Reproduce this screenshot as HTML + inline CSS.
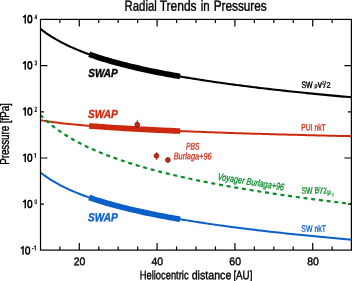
<!DOCTYPE html>
<html><head><meta charset="utf-8"><style>html,body{margin:0;padding:0;background:#fff;}svg{display:block;will-change:transform;}</style></head>
<body><svg xmlns="http://www.w3.org/2000/svg" width="357" height="281" viewBox="0 0 357 281" font-family="Liberation Sans, sans-serif"><rect width="357" height="281" fill="#fff"/><defs><clipPath id="c"><rect x="40.5" y="19.4" width="310.9" height="230.7"/></clipPath></defs><g clip-path="url(#c)" fill="none"><path d="M40.50,28.80 L43.11,30.85 L45.73,32.77 L48.34,34.58 L50.95,36.29 L53.56,37.91 L56.18,39.46 L58.79,40.92 L61.40,42.33 L64.01,43.67 L66.63,44.96 L69.24,46.19 L71.85,47.38 L74.46,48.52 L77.08,49.63 L79.69,50.69 L82.30,51.72 L84.91,52.72 L87.53,53.68 L90.14,54.62 L92.75,55.53 L95.36,56.41 L97.98,57.27 L100.59,58.11 L103.20,58.92 L105.82,59.71 L108.43,60.49 L111.04,61.24 L113.65,61.98 L116.27,62.70 L118.88,63.40 L121.49,64.09 L124.10,64.76 L126.72,65.42 L129.33,66.06 L131.94,66.69 L134.55,67.31 L137.17,67.91 L139.78,68.51 L142.39,69.09 L145.00,69.66 L147.62,70.23 L150.23,70.78 L152.84,71.32 L155.45,71.85 L158.07,72.37 L160.68,72.89 L163.29,73.40 L165.91,73.89 L168.52,74.38 L171.13,74.87 L173.74,75.34 L176.36,75.81 L178.97,76.27 L181.58,76.72 L184.19,77.17 L186.81,77.61 L189.42,78.05 L192.03,78.48 L194.64,78.90 L197.26,79.32 L199.87,79.73 L202.48,80.13 L205.09,80.53 L207.71,80.93 L210.32,81.32 L212.93,81.71 L215.54,82.09 L218.16,82.46 L220.77,82.83 L223.38,83.20 L225.99,83.56 L228.61,83.92 L231.22,84.28 L233.83,84.63 L236.45,84.97 L239.06,85.32 L241.67,85.65 L244.28,85.99 L246.90,86.32 L249.51,86.65 L252.12,86.97 L254.73,87.29 L257.35,87.61 L259.96,87.93 L262.57,88.24 L265.18,88.54 L267.80,88.85 L270.41,89.15 L273.02,89.45 L275.63,89.75 L278.25,90.04 L280.86,90.33 L283.47,90.62 L286.08,90.90 L288.70,91.19 L291.31,91.46 L293.92,91.74 L296.54,92.02 L299.15,92.29 L301.76,92.56 L304.37,92.83 L306.99,93.09 L309.60,93.35 L312.21,93.62 L314.82,93.87 L317.44,94.13 L320.05,94.38 L322.66,94.64 L325.27,94.89 L327.89,95.13 L330.50,95.38 L333.11,95.62 L335.72,95.87 L338.34,96.11 L340.95,96.35 L343.56,96.58 L346.17,96.82 L348.79,97.05 L351.40,97.28" stroke="#000" stroke-width="2.1"/><path d="M89.20,54.29 L91.53,55.11 L93.86,55.91 L96.19,56.69 L98.52,57.45 L100.85,58.19 L103.18,58.92 L105.52,59.62 L107.85,60.32 L110.18,60.99 L112.51,61.66 L114.84,62.31 L117.17,62.94 L119.50,63.56 L121.83,64.17 L124.16,64.77 L126.49,65.36 L128.82,65.94 L131.15,66.50 L133.48,67.06 L135.82,67.60 L138.15,68.14 L140.48,68.66 L142.81,69.18 L145.14,69.69 L147.47,70.19 L149.80,70.69 L152.13,71.17 L154.46,71.65 L156.79,72.12 L159.12,72.58 L161.45,73.04 L163.78,73.49 L166.12,73.93 L168.45,74.37 L170.78,74.80 L173.11,75.23 L175.44,75.65 L177.77,76.06 L180.10,76.47" stroke="#000" stroke-width="5.7"/><path d="M40.50,120.17 L43.11,120.62 L45.73,121.04 L48.34,121.44 L50.95,121.82 L53.56,122.18 L56.18,122.52 L58.79,122.85 L61.40,123.16 L64.01,123.47 L66.63,123.76 L69.24,124.03 L71.85,124.30 L74.46,124.56 L77.08,124.81 L79.69,125.06 L82.30,125.29 L84.91,125.52 L87.53,125.74 L90.14,125.96 L92.75,126.17 L95.36,126.37 L97.98,126.57 L100.59,126.76 L103.20,126.95 L105.82,127.13 L108.43,127.31 L111.04,127.49 L113.65,127.66 L116.27,127.83 L118.88,127.99 L121.49,128.15 L124.10,128.31 L126.72,128.46 L129.33,128.61 L131.94,128.76 L134.55,128.91 L137.17,129.05 L139.78,129.19 L142.39,129.33 L145.00,129.46 L147.62,129.60 L150.23,129.73 L152.84,129.86 L155.45,129.98 L158.07,130.11 L160.68,130.23 L163.29,130.35 L165.91,130.47 L168.52,130.59 L171.13,130.70 L173.74,130.81 L176.36,130.93 L178.97,131.04 L181.58,131.15 L184.19,131.25 L186.81,131.36 L189.42,131.46 L192.03,131.57 L194.64,131.67 L197.26,131.77 L199.87,131.87 L202.48,131.97 L205.09,132.06 L207.71,132.16 L210.32,132.25 L212.93,132.35 L215.54,132.44 L218.16,132.53 L220.77,132.62 L223.38,132.71 L225.99,132.80 L228.61,132.88 L231.22,132.97 L233.83,133.05 L236.45,133.14 L239.06,133.22 L241.67,133.30 L244.28,133.39 L246.90,133.47 L249.51,133.55 L252.12,133.63 L254.73,133.70 L257.35,133.78 L259.96,133.86 L262.57,133.93 L265.18,134.01 L267.80,134.09 L270.41,134.16 L273.02,134.23 L275.63,134.31 L278.25,134.38 L280.86,134.45 L283.47,134.52 L286.08,134.59 L288.70,134.66 L291.31,134.73 L293.92,134.80 L296.54,134.86 L299.15,134.93 L301.76,135.00 L304.37,135.06 L306.99,135.13 L309.60,135.19 L312.21,135.26 L314.82,135.32 L317.44,135.39 L320.05,135.45 L322.66,135.51 L325.27,135.57 L327.89,135.64 L330.50,135.70 L333.11,135.76 L335.72,135.82 L338.34,135.88 L340.95,135.94 L343.56,135.99 L346.17,136.05 L348.79,136.11 L351.40,136.17" stroke="#cc2a10" stroke-width="2.0"/><path d="M89.20,125.88 L91.53,126.07 L93.86,126.25 L96.19,126.43 L98.52,126.61 L100.85,126.78 L103.18,126.95 L105.52,127.11 L107.85,127.27 L110.18,127.43 L112.51,127.58 L114.84,127.74 L117.17,127.88 L119.50,128.03 L121.83,128.17 L124.16,128.31 L126.49,128.45 L128.82,128.59 L131.15,128.72 L133.48,128.85 L135.82,128.98 L138.15,129.10 L140.48,129.23 L142.81,129.35 L145.14,129.47 L147.47,129.59 L149.80,129.71 L152.13,129.82 L154.46,129.94 L156.79,130.05 L159.12,130.16 L161.45,130.27 L163.78,130.37 L166.12,130.48 L168.45,130.58 L170.78,130.69 L173.11,130.79 L175.44,130.89 L177.77,130.99 L180.10,131.08" stroke="#cc2a10" stroke-width="5.7"/><path d="M40.50,172.55 L43.11,174.55 L45.73,176.43 L48.34,178.20 L50.95,179.88 L53.56,181.46 L56.18,182.97 L58.79,184.41 L61.40,185.78 L64.01,187.10 L66.63,188.36 L69.24,189.57 L71.85,190.73 L74.46,191.85 L77.08,192.93 L79.69,193.98 L82.30,194.99 L84.91,195.96 L87.53,196.91 L90.14,197.83 L92.75,198.72 L95.36,199.58 L97.98,200.43 L100.59,201.24 L103.20,202.04 L105.82,202.82 L108.43,203.58 L111.04,204.31 L113.65,205.04 L116.27,205.74 L118.88,206.43 L121.49,207.10 L124.10,207.76 L126.72,208.41 L129.33,209.04 L131.94,209.66 L134.55,210.26 L137.17,210.86 L139.78,211.44 L142.39,212.01 L145.00,212.57 L147.62,213.12 L150.23,213.66 L152.84,214.19 L155.45,214.72 L158.07,215.23 L160.68,215.73 L163.29,216.23 L165.91,216.72 L168.52,217.20 L171.13,217.67 L173.74,218.14 L176.36,218.60 L178.97,219.05 L181.58,219.50 L184.19,219.93 L186.81,220.37 L189.42,220.79 L192.03,221.21 L194.64,221.63 L197.26,222.04 L199.87,222.44 L202.48,222.84 L205.09,223.23 L207.71,223.62 L210.32,224.00 L212.93,224.38 L215.54,224.75 L218.16,225.12 L220.77,225.49 L223.38,225.85 L225.99,226.20 L228.61,226.56 L231.22,226.90 L233.83,227.25 L236.45,227.59 L239.06,227.92 L241.67,228.26 L244.28,228.58 L246.90,228.91 L249.51,229.23 L252.12,229.55 L254.73,229.86 L257.35,230.18 L259.96,230.48 L262.57,230.79 L265.18,231.09 L267.80,231.39 L270.41,231.69 L273.02,231.98 L275.63,232.27 L278.25,232.56 L280.86,232.84 L283.47,233.13 L286.08,233.41 L288.70,233.68 L291.31,233.96 L293.92,234.23 L296.54,234.50 L299.15,234.77 L301.76,235.03 L304.37,235.30 L306.99,235.56 L309.60,235.81 L312.21,236.07 L314.82,236.32 L317.44,236.57 L320.05,236.82 L322.66,237.07 L325.27,237.32 L327.89,237.56 L330.50,237.80 L333.11,238.04 L335.72,238.28 L338.34,238.52 L340.95,238.75 L343.56,238.98 L346.17,239.21 L348.79,239.44 L351.40,239.67" stroke="#0a5fc8" stroke-width="2.0"/><path d="M89.20,197.50 L91.53,198.31 L93.86,199.09 L96.19,199.85 L98.52,200.60 L100.85,201.33 L103.18,202.04 L105.52,202.73 L107.85,203.41 L110.18,204.07 L112.51,204.72 L114.84,205.36 L117.17,205.98 L119.50,206.59 L121.83,207.19 L124.16,207.78 L126.49,208.35 L128.82,208.92 L131.15,209.47 L133.48,210.02 L135.82,210.55 L138.15,211.08 L140.48,211.59 L142.81,212.10 L145.14,212.60 L147.47,213.09 L149.80,213.57 L152.13,214.05 L154.46,214.52 L156.79,214.98 L159.12,215.44 L161.45,215.88 L163.78,216.32 L166.12,216.76 L168.45,217.19 L170.78,217.61 L173.11,218.03 L175.44,218.44 L177.77,218.84 L180.10,219.24" stroke="#0a5fc8" stroke-width="5.7"/><path d="M40.50,115.10 L42.46,117.07 L44.41,118.95 L46.37,120.74 L48.32,122.45 L50.28,124.10 L52.23,125.68 L54.19,127.20 L56.14,128.67 L58.10,130.09 L60.05,131.45 L62.01,132.78 L63.96,134.06 L65.92,135.30 L67.87,136.51 L69.83,137.68 L71.79,138.82 L73.74,139.92 L75.70,141.00 L77.65,142.05 L79.61,143.07 L81.56,144.07 L83.52,145.05 L85.47,146.00 L87.43,146.93 L89.38,147.84 L91.34,148.73 L93.29,149.60 L95.25,150.45 L97.21,151.28 L99.16,152.10 L101.12,152.90 L103.07,153.69 L105.03,154.46 L106.98,155.21 L108.94,155.96 L110.89,156.69 L112.85,157.40 L114.80,158.11 L116.76,158.80 L118.71,159.48 L120.67,160.15 L122.62,160.81 L124.58,161.46 L126.54,162.10 L128.49,162.73 L130.45,163.34 L132.40,163.95 L134.36,164.55 L136.31,165.15 L138.27,165.73 L140.22,166.30 L142.18,166.87 L144.13,167.43 L146.09,167.98 L148.04,168.53 L150.00,169.07 L151.95,169.60 L153.91,170.12 L155.87,170.64 L157.82,171.15 L159.78,171.65 L161.73,172.15 L163.69,172.64 L165.64,173.13 L167.60,173.61 L169.55,174.08 L171.51,174.55 L173.46,175.02 L175.42,175.47 L177.37,175.93 L179.33,176.38 L181.28,176.82 L183.24,177.26 L185.20,177.69 L187.15,178.12 L189.11,178.55 L191.06,178.97 L193.02,179.39 L194.97,179.80 L196.93,180.21 L198.88,180.61 L200.84,181.01 L202.79,181.41 L204.75,181.80 L206.70,182.19 L208.66,182.58 L210.62,182.96 L212.57,183.34 L214.53,183.71 L216.48,184.08 L218.44,184.45 L220.39,184.81 L222.35,185.18 L224.30,185.53 L226.26,185.89 L228.21,186.24 L230.17,186.59 L232.12,186.94 L234.08,187.28 L236.03,187.62 L237.99,187.96 L239.95,188.29 L241.90,188.63 L243.86,188.95 L245.81,189.28 L247.77,189.61 L249.72,189.93 L251.68,190.25 L253.63,190.56 L255.59,190.88 L257.54,191.19 L259.50,191.50 L261.45,191.81 L263.41,192.11 L265.36,192.41 L267.32,192.71 L269.28,193.01 L271.23,193.31 L273.19,193.60 L275.14,193.89 L277.10,194.18 L279.05,194.47 L281.01,194.76 L282.96,195.04 L284.92,195.32 L286.87,195.60 L288.83,195.88 L290.78,196.16 L292.74,196.43 L294.69,196.70 L296.65,196.98 L298.61,197.24 L300.56,197.51 L302.52,197.78 L304.47,198.04 L306.43,198.30 L308.38,198.56 L310.34,198.82 L312.29,199.08 L314.25,199.33 L316.20,199.59 L318.16,199.84 L320.11,200.09 L322.07,200.34 L324.03,200.59 L325.98,200.84 L327.94,201.08 L329.89,201.32 L331.85,201.57 L333.80,201.81 L335.76,202.05 L337.71,202.28 L339.67,202.52 L341.62,202.75 L343.58,202.99 L345.53,203.22 L347.49,203.45 L349.44,203.68 L351.40,203.91" stroke="#0a8a2a" stroke-width="2.2" stroke-dasharray="4.0 3.779" stroke-dashoffset="0.298"/></g><rect x="40.5" y="19.4" width="310.9" height="230.7" fill="none" stroke="#000" stroke-width="1.2"/><path d="M59.85,19.4v3.5 M59.85,250.1v-3.5 M79.30,19.4v7 M79.30,250.1v-7 M98.75,19.4v3.5 M98.75,250.1v-3.5 M118.20,19.4v3.5 M118.20,250.1v-3.5 M137.65,19.4v3.5 M137.65,250.1v-3.5 M157.10,19.4v7 M157.10,250.1v-7 M176.55,19.4v3.5 M176.55,250.1v-3.5 M196.00,19.4v3.5 M196.00,250.1v-3.5 M215.45,19.4v3.5 M215.45,250.1v-3.5 M234.90,19.4v7 M234.90,250.1v-7 M254.35,19.4v3.5 M254.35,250.1v-3.5 M273.80,19.4v3.5 M273.80,250.1v-3.5 M293.25,19.4v3.5 M293.25,250.1v-3.5 M312.70,19.4v7 M312.70,250.1v-7 M332.15,19.4v3.5 M332.15,250.1v-3.5 M40.5,65.60h7 M351.4,65.60h-7 M40.5,111.80h3.5 M351.4,111.80h-3.5 M40.5,158.00h7 M351.4,158.00h-7 M40.5,204.20h3.5 M351.4,204.20h-3.5" stroke="#000" stroke-width="1.2" fill="none"/><path d="M137.25,119.8V124.7" stroke="#cc2a10" stroke-width="1"/><circle cx="137.25" cy="124.7" r="2.4" fill="#cc2a10" stroke="#4a0c02" stroke-width="0.7"/><path d="M156.5,152.4V160" stroke="#cc2a10" stroke-width="1"/><circle cx="156.5" cy="155.8" r="2.4" fill="#cc2a10" stroke="#4a0c02" stroke-width="0.7"/><circle cx="167.9" cy="160.0" r="2.4" fill="#cc2a10" stroke="#4a0c02" stroke-width="0.7"/><text x="124.580" y="10.670" transform="rotate(0.05 124.58 10.67)" font-size="14.600" fill="#000" font-weight="normal" font-style="normal" textLength="32.214" lengthAdjust="spacingAndGlyphs" stroke="#000" stroke-width="0.4">Radial</text><text x="159.625" y="10.670" transform="rotate(0.05 159.63 10.67)" font-size="14.600" fill="#000" font-weight="normal" font-style="normal" textLength="36.981" lengthAdjust="spacingAndGlyphs" stroke="#000" stroke-width="0.4">Trends</text><text x="200.680" y="10.670" transform="rotate(0.05 200.68 10.67)" font-size="14.600" fill="#000" font-weight="normal" font-style="normal" textLength="8.949" lengthAdjust="spacingAndGlyphs" stroke="#000" stroke-width="0.4">in</text><text x="213.625" y="10.670" transform="rotate(0.05 213.62 10.67)" font-size="14.600" fill="#000" font-weight="normal" font-style="normal" textLength="53.103" lengthAdjust="spacingAndGlyphs" stroke="#000" stroke-width="0.4">Pressures</text><text x="139.659" y="279.300" transform="rotate(0.05 139.66 279.30)" font-size="12.200" fill="#000" font-weight="normal" font-style="normal" textLength="48.944" lengthAdjust="spacingAndGlyphs" stroke="#000" stroke-width="0.4">Heliocentric</text><text x="191.646" y="279.300" transform="rotate(0.05 191.65 279.30)" font-size="12.200" fill="#000" font-weight="normal" font-style="normal" textLength="39.759" lengthAdjust="spacingAndGlyphs" stroke="#000" stroke-width="0.4">distance</text><text x="233.387" y="279.300" transform="rotate(0.05 233.39 279.30)" font-size="12.200" fill="#000" font-weight="normal" font-style="normal" textLength="19.006" lengthAdjust="spacingAndGlyphs" stroke="#000" stroke-width="0.4">[AU]</text><text x="88.297" y="77.038" transform="rotate(0.05 88.30 77.04)" font-size="11.700" fill="#000" font-weight="bold" font-style="italic" textLength="29.433" lengthAdjust="spacingAndGlyphs" stroke="#000" stroke-width="0.35">SWAP</text><text x="87.936" y="118.022" transform="rotate(0.05 87.94 118.02)" font-size="11.700" fill="#cc2a10" font-weight="bold" font-style="italic" textLength="29.839" lengthAdjust="spacingAndGlyphs" stroke="#cc2a10" stroke-width="0.35">SWAP</text><text x="87.993" y="221.233" transform="rotate(0.05 87.99 221.23)" font-size="11.700" fill="#0a5fc8" font-weight="bold" font-style="italic" textLength="29.680" lengthAdjust="spacingAndGlyphs" stroke="#0a5fc8" stroke-width="0.35">SWAP</text><text x="301.359" y="130.614" transform="rotate(0.05 301.36 130.61)" font-size="9.300" fill="#cc2a10" font-weight="normal" font-style="normal" textLength="24.359" lengthAdjust="spacingAndGlyphs" stroke="#cc2a10" stroke-width="0.3">PUI nkT</text><text x="301.296" y="231.721" transform="rotate(0.05 301.30 231.72)" font-size="9.300" fill="#0a5fc8" font-weight="normal" font-style="normal" textLength="24.700" lengthAdjust="spacingAndGlyphs" stroke="#0a5fc8" stroke-width="0.3">SW nkT</text><text x="186.070" y="149.492" transform="rotate(0.05 186.07 149.49)" font-size="9.600" fill="#cc2a10" font-weight="normal" font-style="italic" textLength="13.518" lengthAdjust="spacingAndGlyphs" stroke="#cc2a10" stroke-width="0.25">PBS</text><text x="173.634" y="159.365" transform="rotate(0.05 173.63 159.36)" font-size="9.600" fill="#cc2a10" font-weight="normal" font-style="italic" textLength="38.044" lengthAdjust="spacingAndGlyphs" stroke="#cc2a10" stroke-width="0.25">Burlaga+96</text><text x="301.477" y="87.909" transform="rotate(0.05 301.48 87.91)" font-size="9.300" fill="#000" font-weight="normal" font-style="normal" textLength="11.203" lengthAdjust="spacingAndGlyphs" stroke="#000" stroke-width="0.4">SW</text><text x="314.440" y="87.519" transform="rotate(0.05 314.44 87.52)" font-size="6.200" fill="#000" font-weight="normal" font-style="normal" textLength="2.991" lengthAdjust="spacingAndGlyphs" stroke="#000" stroke-width="0.3">ρ</text><text x="317.842" y="87.704" transform="rotate(0.05 317.84 87.70)" font-size="10.500" fill="#000" font-weight="normal" font-style="normal" textLength="4.282" lengthAdjust="spacingAndGlyphs" stroke="#000" stroke-width="0.45">v</text><text x="321.967" y="84.531" transform="rotate(0.05 321.97 84.53)" font-size="5.500" fill="#000" font-weight="normal" font-style="normal" textLength="2.314" lengthAdjust="spacingAndGlyphs" stroke="#000" stroke-width="0.15">2</text><text x="323.547" y="87.832" transform="rotate(0.05 323.55 87.83)" font-size="9.000" fill="#000" font-weight="normal" font-style="normal" stroke="#000" stroke-width="0.3">/</text><text x="326.421" y="87.690" transform="rotate(0.05 326.42 87.69)" font-size="8.200" fill="#000" font-weight="normal" font-style="normal" textLength="4.134" lengthAdjust="spacingAndGlyphs" stroke="#000" stroke-width="0.3">2</text><text x="301.464" y="193.764" transform="rotate(0.05 301.46 193.76)" font-size="9.300" fill="#0a8a2a" font-weight="normal" font-style="normal" textLength="11.012" lengthAdjust="spacingAndGlyphs" stroke="#0a8a2a" stroke-width="0.3">SW</text><text x="314.466" y="193.281" transform="rotate(0.05 314.47 193.28)" font-size="8.600" fill="#0a8a2a" font-weight="normal" font-style="normal" textLength="4.603" lengthAdjust="spacingAndGlyphs" stroke="#0a8a2a" stroke-width="0.3">B</text><text x="318.467" y="190.161" transform="rotate(0.05 318.47 190.16)" font-size="5.000" fill="#0a8a2a" font-weight="normal" font-style="normal" textLength="2.222" lengthAdjust="spacingAndGlyphs" stroke="#0a8a2a" stroke-width="0.1">2</text><text x="320.310" y="193.829" transform="rotate(0.05 320.31 193.83)" font-size="8.600" fill="#0a8a2a" font-weight="normal" font-style="normal" stroke="#0a8a2a" stroke-width="0.3">/</text><text x="323.159" y="193.272" transform="rotate(0.05 323.16 193.27)" font-size="8.000" fill="#0a8a2a" font-weight="normal" font-style="normal" textLength="3.532" lengthAdjust="spacingAndGlyphs" stroke="#0a8a2a" stroke-width="0.3">2</text><text x="327.261" y="194.128" transform="rotate(0.05 327.26 194.13)" font-size="7.500" fill="#0a8a2a" font-weight="normal" font-style="normal" textLength="3.605" lengthAdjust="spacingAndGlyphs" stroke="#0a8a2a" stroke-width="0.3">μ</text><text x="331.832" y="196.225" transform="rotate(0.05 331.83 196.23)" font-size="4.800" fill="#0a8a2a" font-weight="normal" font-style="normal" textLength="2.079" lengthAdjust="spacingAndGlyphs" stroke="#0a8a2a" stroke-width="0.1">0</text><text x="73.733" y="265.369" transform="rotate(0.05 73.73 265.37)" font-size="11.100" fill="#000" font-weight="normal" font-style="normal" textLength="11.650" lengthAdjust="spacingAndGlyphs" stroke="#000" stroke-width="0.4">20</text><text x="151.533" y="265.369" transform="rotate(0.05 151.53 265.37)" font-size="11.100" fill="#000" font-weight="normal" font-style="normal" textLength="11.650" lengthAdjust="spacingAndGlyphs" stroke="#000" stroke-width="0.4">40</text><text x="229.333" y="265.369" transform="rotate(0.05 229.33 265.37)" font-size="11.100" fill="#000" font-weight="normal" font-style="normal" textLength="11.650" lengthAdjust="spacingAndGlyphs" stroke="#000" stroke-width="0.4">60</text><text x="307.133" y="265.369" transform="rotate(0.05 307.13 265.37)" font-size="11.100" fill="#000" font-weight="normal" font-style="normal" textLength="11.650" lengthAdjust="spacingAndGlyphs" stroke="#000" stroke-width="0.4">80</text><g transform="translate(-2.20,185.10)" fill="none" stroke="#000" stroke-width="1.4"><path d="M25.25,61.0 V69.65 M25.3,61.4 Q24.6,62.9 22.9,63.2" /><ellipse cx="29.85" cy="65.33" rx="1.95" ry="3.6"/></g><path d="M31.9,248.6 H33.6 M35.3,245.6 V250.3 M35.25,245.8 L34.2,246.9" stroke="#000" stroke-width="0.95" fill="none"/><g transform="translate(0.00,-46.20)" fill="none" stroke="#000" stroke-width="1.4"><path d="M25.25,61.0 V69.65 M25.3,61.4 Q24.6,62.9 22.9,63.2" /><ellipse cx="29.85" cy="65.33" rx="1.95" ry="3.6"/></g><text x="34.524" y="19.163" transform="rotate(0.05 34.52 19.16)" font-size="6.600" fill="#000" font-weight="normal" font-style="normal" textLength="2.607" lengthAdjust="spacingAndGlyphs" stroke="#000" stroke-width="0.3">4</text><g transform="translate(0.00,0.00)" fill="none" stroke="#000" stroke-width="1.4"><path d="M25.25,61.0 V69.65 M25.3,61.4 Q24.6,62.9 22.9,63.2" /><ellipse cx="29.85" cy="65.33" rx="1.95" ry="3.6"/></g><text x="34.524" y="65.363" transform="rotate(0.05 34.52 65.36)" font-size="6.600" fill="#000" font-weight="normal" font-style="normal" textLength="2.607" lengthAdjust="spacingAndGlyphs" stroke="#000" stroke-width="0.3">3</text><g transform="translate(0.00,46.20)" fill="none" stroke="#000" stroke-width="1.4"><path d="M25.25,61.0 V69.65 M25.3,61.4 Q24.6,62.9 22.9,63.2" /><ellipse cx="29.85" cy="65.33" rx="1.95" ry="3.6"/></g><text x="34.524" y="111.563" transform="rotate(0.05 34.52 111.56)" font-size="6.600" fill="#000" font-weight="normal" font-style="normal" textLength="2.607" lengthAdjust="spacingAndGlyphs" stroke="#000" stroke-width="0.3">2</text><g transform="translate(0.00,92.40)" fill="none" stroke="#000" stroke-width="1.4"><path d="M25.25,61.0 V69.65 M25.3,61.4 Q24.6,62.9 22.9,63.2" /><ellipse cx="29.85" cy="65.33" rx="1.95" ry="3.6"/></g><path d="M35.35,153.00 V157.80 M35.3,153.20 L34.2,154.30" stroke="#000" stroke-width="0.95" fill="none"/><g transform="translate(0.00,138.60)" fill="none" stroke="#000" stroke-width="1.4"><path d="M25.25,61.0 V69.65 M25.3,61.4 Q24.6,62.9 22.9,63.2" /><ellipse cx="29.85" cy="65.33" rx="1.95" ry="3.6"/></g><text x="34.524" y="203.963" transform="rotate(0.05 34.52 203.96)" font-size="6.600" fill="#000" font-weight="normal" font-style="normal" textLength="2.607" lengthAdjust="spacingAndGlyphs" stroke="#000" stroke-width="0.3">0</text><text transform="translate(8.9,164.8) rotate(-90)" font-size="12.2" textLength="61.6" lengthAdjust="spacingAndGlyphs" stroke="#000" stroke-width="0.4">Pressure [fPa]</text><text transform="translate(217.23,179.70) rotate(9.3)" font-size="10" fill="#0a8a2a" font-style="italic" textLength="67.22" lengthAdjust="spacingAndGlyphs" stroke="#0a8a2a" stroke-width="0.3">Voyager Burlaga+96</text></svg></body></html>
